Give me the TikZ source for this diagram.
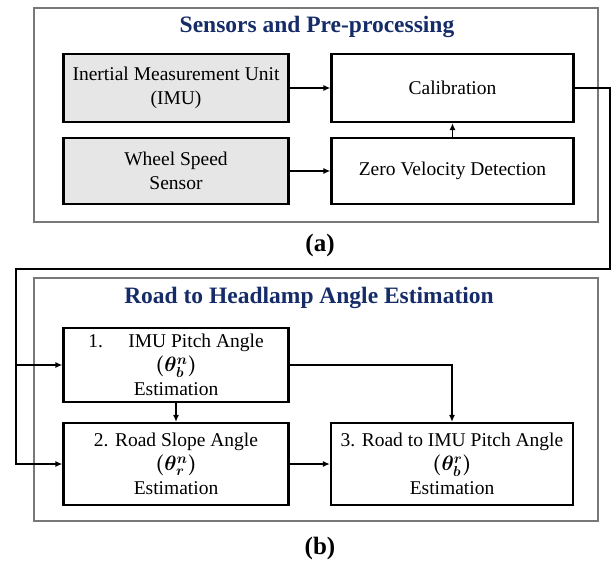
\documentclass[tikz,border=0pt]{standalone}
\usepackage{fontspec}
\setmainfont{Liberation Serif}
\usepackage{amsmath}
\usepackage{bm}
\usepackage{xcolor}
\usetikzlibrary{arrows.meta}

\definecolor{titleblue}{RGB}{22,44,104}
\definecolor{boxgray}{RGB}{230,230,230}
\definecolor{framegray}{RGB}{120,120,120}

\tikzset{
    block/.style={draw=black, line width=2.2pt, align=center,
        font=\fontsize{19.5}{24}\selectfont, inner sep=2pt},
    sensor/.style={block, fill=boxgray},
    frame/.style={draw=framegray, line width=2pt},
    heading/.style={font=\fontsize{23.5}{26}\selectfont\bfseries, text=titleblue},
    caption/.style={font=\fontsize{25}{28}\selectfont\bfseries},
    arr/.style={line width=1.7pt, -{Latex[length=7pt,width=6pt]}}
}

\begin{document}
\begin{tikzpicture}[x=1pt,y=-1pt]
        \useasboundingbox (0,0) rectangle (613,563);

        % Define box widths
        \def\wl{225} % left column
        \def\wr{242} % right column

        % (a) Sensors and pre-processing
        \draw[frame] (34,8) rectangle (598,222);
        \node[heading] (ta) at (317,27) {Sensors and Pre-processing};

        \node[sensor, minimum width=\wl, minimum height=68] (imu) at (176,88)
            {Inertial Measurement Unit\\(IMU)};
        \node[block, minimum width=\wr, minimum height=68] (calib) at (452.5,88)
            {Calibration};
        \node[sensor, minimum width=\wl, minimum height=66] (wheel) at (176,171)
            {Wheel Speed\\Sensor};
        \node[block, minimum width=\wr, minimum height=66] (zero) at (452.5,171)
            {Zero Velocity Detection};

        \node[caption] (capa) at (320,245) {(a)};

        % (b) Road to headlamp angle estimation
        \draw[frame] (34,278) rectangle (598,521);
        \node[heading] (tb) at (309,298) {Road to Headlamp Angle Estimation};

        \node[block, minimum width=\wl, minimum height=74] (pitch) at (176,365)
            {1.\hspace{1.3em}IMU Pitch Angle\\$\bm{(\theta_b^n)}$\\Estimation};
        \node[block, minimum width=\wl, minimum height=82] (slope) at (176,464)
            {2. Road Slope Angle\\$\bm{(\theta_r^n)}$\\Estimation};
        \node[block, minimum width=\wr, minimum height=82] (road) at (452,464)
            {3. Road to IMU Pitch Angle\\$\bm{(\theta_b^r)}$\\Estimation};

        \node[caption] (capb) at (320,548) {(b)};

        % Straight arrows
        \foreach \a/\b in {imu/calib, wheel/zero, zero/calib, pitch/slope, slope/road} {
            \draw[arr] (\a) -- (\b);
        }
        \draw[arr] (pitch.east) -| (road.north);

        % Feedback from (a) to (b)
        \coordinate (rr) at (610,269);
        \coordinate (ll) at (16,269);
        \draw[arr] (calib.east) -| (rr) -- (ll) |- (slope.west);
        \draw[arr] (ll |- pitch.west) -- (pitch.west);
    \end{tikzpicture}
\end{document}
